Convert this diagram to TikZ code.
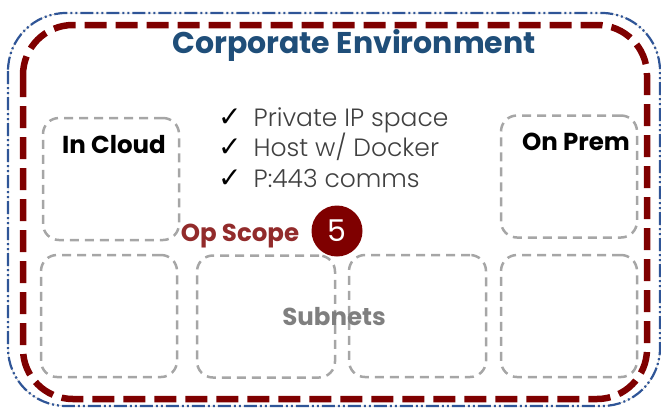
\documentclass[tikz,border=0pt]{standalone}
\usepackage{fontspec}
\setmainfont{Poppins}
\newfontfamily\thinfont{Poppins}[UprightFont={* Light}]
\newfontfamily\symfont{DejaVu Sans}[UprightFont={* Bold}]
\usetikzlibrary{positioning}

\definecolor{envblue}{HTML}{1F4E79}
\definecolor{lineblue}{HTML}{2F5597}
\definecolor{scopered}{HTML}{7F0000}
\definecolor{oplabel}{HTML}{922B2B}
\definecolor{boxgray}{HTML}{A6A6A6}
\definecolor{subgray}{HTML}{7F7F7F}
\definecolor{listgray}{HTML}{404040}

\newcommand{\tick}{{\symfont\fontsize{28}{30}\selectfont\color{black}✓}\hspace{12pt}}

\tikzset{
	netbox/.style={draw=boxgray, line width=2.5pt, dash pattern=on 9pt off 6pt,
		rounded corners=16pt, minimum width=136pt, minimum height=122pt, inner sep=0pt},
	boxlabel/.style={anchor=base, font=\bfseries\fontsize{24.5}{28}\selectfont, text=black},
	checkitem/.style={anchor=base west, inner sep=0pt, font=\thinfont\fontsize{25}{30}\selectfont, text=listgray},
}

\begin{document}
\begin{tikzpicture}[x=1pt, y=-1pt]
		\useasboundingbox (0,0) rectangle (661,408);

		% outer environment border
		\draw[gray!45, line width=0.5pt, rounded corners=58pt] (8,13) rectangle (660,406);
		\draw[lineblue, line width=2.2pt, rounded corners=58pt,
			dash pattern=on 13pt off 3pt on 2pt off 3pt on 2pt off 3pt] (8,13) rectangle (660,406);
		\node[anchor=base, font=\bfseries\fontsize{30}{36}\selectfont, text=envblue] (title) at (354,53) {Corporate Environment};

		% op scope border
		\draw[scopered, line width=6.5pt, rounded corners=50pt, dash pattern=on 22pt off 9pt] (23,25) rectangle (647,399);

		% top row
		\node[netbox] (cloud) at (111,179) {};
		\node[netbox] (prem) at (569,176.5) {};
		\node[boxlabel] (cloudlbl) at (114,153) {In Cloud};
		\node[boxlabel] (premlbl) at (576,150) {On Prem};

		% requirements
		\node[checkitem] (req1) at (218,126) {\tick Private IP space};
		\node[checkitem] (req2) at (218,156) {\tick Host w/ Docker};
		\node[checkitem] (req3) at (218,187) {\tick P:443 comms};

		% scope marker
		\node[anchor=base, font=\bfseries\fontsize{24.5}{28}\selectfont, text=oplabel] (oplbl) at (240,241) {Op Scope};
		\node[circle, fill=scopered, minimum size=51pt, inner sep=0pt, text=white,
			font=\fontsize{30}{34}\selectfont] (opnum) at (337,231) {5};

		% subnets row
		\node[netbox] (sub1) at (109,316) {};
		\node[netbox, minimum width=138pt] (sub2) at (266,316.5) {};
		\node[netbox, minimum width=137pt] (sub3) at (417.5,316) {};
		\node[netbox] (sub4) at (569,316) {};
		\node[anchor=base, font=\bfseries\fontsize{24.5}{28}\selectfont, text=subgray] (sublbl) at (334,325) {Subnets};
	\end{tikzpicture}
\end{document}
